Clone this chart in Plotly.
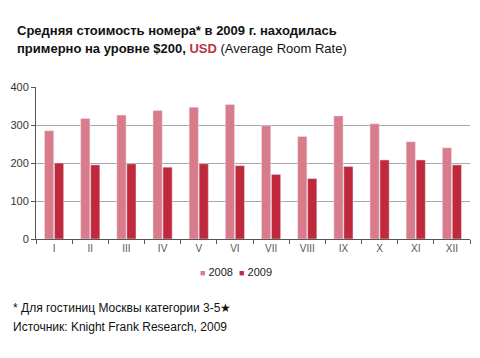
import plotly.graph_objects as go

months = ["I", "II", "III", "IV", "V", "VI", "VII", "VIII", "IX", "X", "XI", "XII"]
rate_2008 = [285, 317, 326, 338, 347, 354, 298, 270, 324, 303, 256, 240]
rate_2009 = [200, 195, 198, 189, 198, 193, 170, 159, 191, 208, 208, 195]
y_ticks = [0, 100, 200, 300, 400]
series_names = ["2008", "2009"]

FONT = "Liberation Sans, Arial, Helvetica, sans-serif"
C2008 = "#d97b8b"
C2009 = "#c0283c"

fig = go.Figure()
fig.add_trace(go.Bar(name=series_names[0], x=months, y=rate_2008, marker_color=C2008, showlegend=False))
fig.add_trace(go.Bar(name=series_names[1], x=months, y=rate_2009, marker_color=C2009, showlegend=False))

L, R, T, B = 36, 10, 87, 119
W, H = 480, 358
ph = H - T - B

def py(pix):
    return (H - B - pix) / ph

def px(pix):
    return (pix - L) / (W - L - R)

legend_text = (f"<span style='color:{C2008};font-size:9px'>■</span> {series_names[0]}  "
               f"<span style='color:{C2009};font-size:9px'>■</span> {series_names[1]}")

fig.update_layout(
    width=W, height=H,
    margin=dict(l=L, r=R, t=T, b=B, autoexpand=False),
    paper_bgcolor="white", plot_bgcolor="white",
    barmode="group", bargap=0.45, bargroupgap=0.07,
    font=dict(family=FONT, size=11, color="#333333"),
    showlegend=False,
    hovermode=False,
    xaxis=dict(showline=True, linecolor="#555555", linewidth=1, ticks="outside",
               tickson="boundaries", ticklen=4, tickcolor="#555555", automargin=False,
               tickfont=dict(size=10, color="#555555"), showgrid=False),
    yaxis=dict(range=[0, 400], tickvals=y_ticks, showline=True, linecolor="#555555",
               linewidth=1, ticks="outside", ticklen=4, tickcolor="#555555", automargin=False,
               gridcolor="#a8a8a8", gridwidth=1, zeroline=False,
               tickfont=dict(size=11, color="#333333")),
    annotations=[
        dict(xref="paper", yref="paper", x=px(15), y=py(30), xanchor="left", yanchor="middle",
             showarrow=False, align="left",
             text="<b>Средняя стоимость номера* в 2009 г. находилась</b>",
             font=dict(size=13, color="#111111", family=FONT)),
        dict(xref="paper", yref="paper", x=px(15), y=py(48), xanchor="left", yanchor="middle",
             showarrow=False, align="left",
             text="<b>примерно на уровне $200, </b><b><span style='color:#b8324a'>USD</span></b> (Average Room Rate)",
             font=dict(size=13, color="#111111", family=FONT)),
        dict(xref="paper", yref="paper", x=px(236), y=py(272), xanchor="center", yanchor="middle",
             showarrow=False, text=legend_text,
             font=dict(size=11, color="#222222", family=FONT)),
        dict(xref="paper", yref="paper", x=px(11), y=py(308), xanchor="left", yanchor="middle",
             showarrow=False, align="left",
             text="* Для гостиниц Москвы категории 3-5★",
             font=dict(size=12, color="#111111", family=FONT)),
        dict(xref="paper", yref="paper", x=px(11), y=py(327), xanchor="left", yanchor="middle",
             showarrow=False, align="left",
             text="Источник: Knight Frank Research, 2009",
             font=dict(size=12, color="#111111", family=FONT)),
    ],
)

fig.write_html(
    "out.html",
    config={"displayModeBar": False},
    post_script="document.body.style.margin='0';document.body.style.overflow='hidden';",
)
